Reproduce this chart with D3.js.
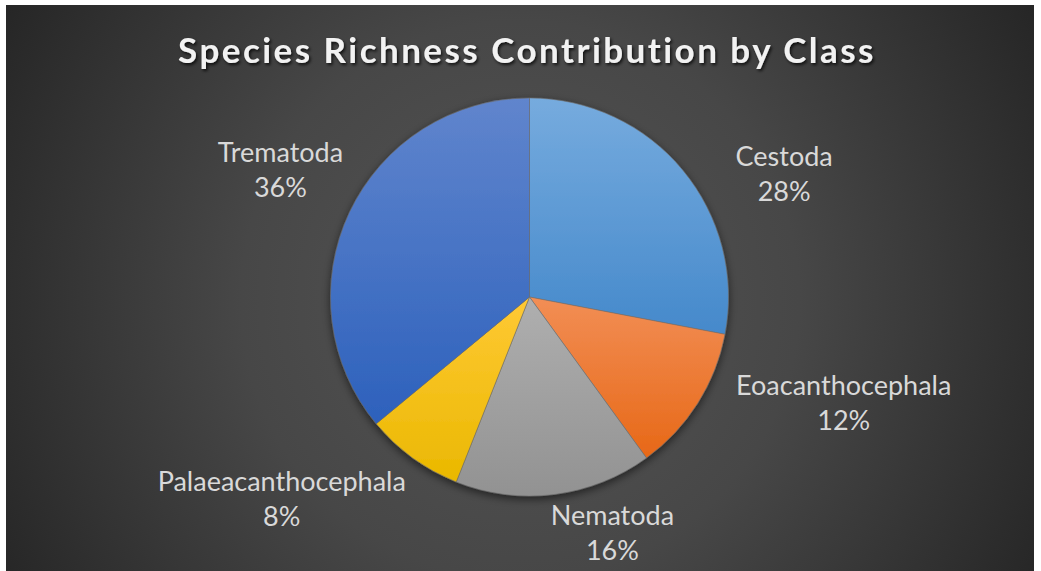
<!DOCTYPE html>
<html>
<head>
<meta charset="utf-8">
<script src="https://cdn.jsdelivr.net/npm/d3@7/dist/d3.min.js"></script>
<style>
  html, body { margin: 0; padding: 0; background: #ffffff; }
  svg { display: block; }
</style>
</head>
<body>
<svg id="chart" width="1041" height="571"></svg>
<script>
// ---- data ----
const categories = ["Cestoda", "Eoacanthocephala", "Nematoda", "Palaeacanthocephala", "Trematoda"];
const shares = [28, 12, 16, 8, 36];
const title = "Species Richness Contribution by Class";

// ---- styling / layout (kept separate from data) ----
const gradTop = { Cestoda: "#76abde", Eoacanthocephala: "#f28e55", Nematoda: "#afafaf", Palaeacanthocephala: "#ffc935", Trematoda: "#6085cd" };
const gradBot = { Cestoda: "#4589cb", Eoacanthocephala: "#e76817", Nematoda: "#929292", Palaeacanthocephala: "#eab800", Trematoda: "#2d61bc" };
const labelNudge = { Cestoda: [40, 55], Eoacanthocephala: [79, -43], Nematoda: [48, -40], Palaeacanthocephala: [-84, -23], Trematoda: [3, -8] };

const W = 1041, H = 571;
const svg = d3.select("#chart");
const defs = svg.append("defs");

// background
const bg = defs.append("radialGradient").attr("id", "bgGrad")
  .attr("gradientUnits", "userSpaceOnUse")
  .attr("cx", 520).attr("cy", 300).attr("r", 620);
bg.append("stop").attr("offset", "0").attr("stop-color", "#555555");
bg.append("stop").attr("offset", "0.45").attr("stop-color", "#474747");
bg.append("stop").attr("offset", "1").attr("stop-color", "#232323");
svg.append("rect").attr("x", 6).attr("y", 5).attr("width", 1028).attr("height", 566).attr("fill", "url(#bgGrad)");

// shadows
const sh = defs.append("filter").attr("id", "pieShadow").attr("x", "-20%").attr("y", "-20%").attr("width", "140%").attr("height", "140%");
sh.append("feDropShadow").attr("dx", 0).attr("dy", 3).attr("stdDeviation", 4).attr("flood-color", "#000").attr("flood-opacity", 0.55);
const tsh = defs.append("filter").attr("id", "titleShadow").attr("x", "-10%").attr("y", "-30%").attr("width", "120%").attr("height", "160%");
tsh.append("feDropShadow").attr("dx", 1.5).attr("dy", 2).attr("stdDeviation", 1.5).attr("flood-color", "#000").attr("flood-opacity", 0.75);

// title
const titleText = svg.append("text")
  .attr("x", 527).attr("y", 63)
  .attr("text-anchor", "middle")
  .attr("font-family", "Lato, 'Open Sans', sans-serif")
  .attr("font-weight", "bold")
  .attr("font-size", 35)
  .attr("fill", "#f2f2f2")
  .attr("filter", "url(#titleShadow)")
  .text(title);
// fit title width to reference (~696px) by letter spacing
{
  const len = titleText.node().getComputedTextLength();
  const ls = (696 - len) / (title.length - 1);
  titleText.attr("letter-spacing", ls.toFixed(2));
}

// pie
const cx = 529.5, cy = 297, r = 199;
const data = categories.map((c, i) => ({ cat: c, value: shares[i] }));
const pie = d3.pie().value(d => d.value).sort(null);
const arcs = pie(data);
const arc = d3.arc().innerRadius(0).outerRadius(r);
const labelArc = d3.arc().innerRadius(r * 1.4).outerRadius(r * 1.4);

arcs.forEach((a, i) => {
  const g = defs.append("linearGradient").attr("id", "sg" + i)
    .attr("x1", 0).attr("y1", 0).attr("x2", 0).attr("y2", 1);
  g.append("stop").attr("offset", 0).attr("stop-color", gradTop[a.data.cat]);
  g.append("stop").attr("offset", 1).attr("stop-color", gradBot[a.data.cat]);
});

const pg = svg.append("g").attr("transform", `translate(${cx},${cy})`);
pg.append("g").attr("filter", "url(#pieShadow)")
  .selectAll("path").data(arcs).join("path")
  .attr("d", arc)
  .attr("fill", (d, i) => `url(#sg${i})`)
  .attr("stroke", "#6f6f6f")
  .attr("stroke-opacity", 0.7)
  .attr("stroke-width", 0.8);

// labels
const fmt = d3.format(".0%");
const total = d3.sum(shares);
const lg = pg.append("g")
  .attr("font-family", "Lato, 'Open Sans', sans-serif")
  .attr("font-size", 27)
  .attr("fill", "#d9d9d9")
  .attr("text-anchor", "middle");
arcs.forEach(a => {
  const [bx, by] = labelArc.centroid(a);
  const [nx, ny] = labelNudge[a.data.cat];
  const x = bx + nx, y = by + ny;
  const t = lg.append("text").attr("x", x).attr("y", y);
  t.append("tspan").attr("x", x).attr("dy", -8).text(a.data.cat);
  t.append("tspan").attr("x", x).attr("dy", 34.3).text(fmt(a.data.value / total));
});
</script>
</body>
</html>
